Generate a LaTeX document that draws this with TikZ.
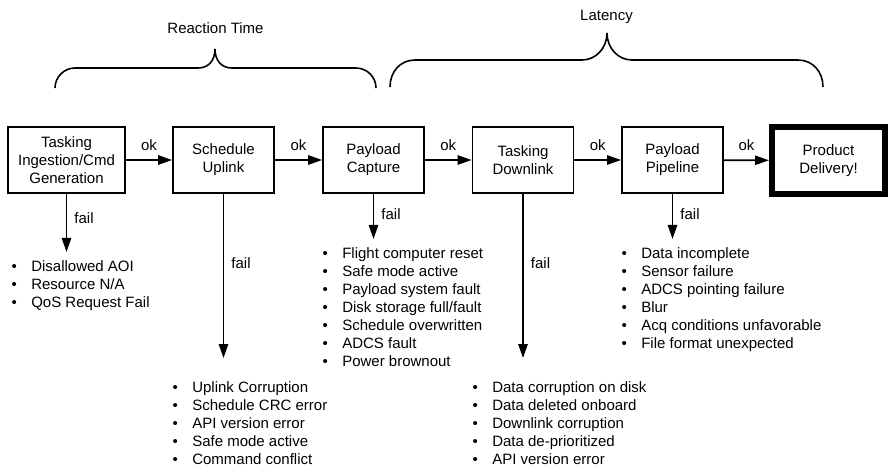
\documentclass[tikz,border=0pt]{standalone}
\usepackage{fontspec}
\setmainfont{Liberation Sans}
\usetikzlibrary{arrows.meta}

\newcommand{\fitem}[1]{\makebox[14.7pt][l]{\textbullet}#1}

\begin{document}
\begin{tikzpicture}[x=0.75pt, y=-0.75pt, >={Triangle[length=10.5pt,width=7pt]},
    every node/.style={font=\fontsize{11.25pt}{13.5pt}\selectfont},
    stage/.style={draw, line width=1.3pt, minimum width=75.75pt, minimum height=49.5pt, align=center, inner sep=0pt},
    flow/.style={->, line width=1.3pt},
    oklbl/.style={above=3pt, midway},
    faillbl/.style={right=2pt, pos=0.37},
    causes/.style={anchor=north west, align=left, inner sep=0pt},
    brace/.style={line width=1.2pt}]

    \useasboundingbox (0,0) rectangle (889,469);

    % Fasi della catena
    \node[stage, minimum width=87.75pt] (ingest) at (66.5,160) {Tasking\\Ingestion/Cmd\\Generation};
    \node[stage] (uplink) at (223.5,160) {Schedule\\Uplink};
    \node[stage] (capture) at (373.5,160) {Payload\\Capture};
    \node[stage] (downlink) at (523,160) {Tasking\\Downlink};
    \node[stage] (pipeline) at (672.5,160) {Payload\\Pipeline};
    \node[stage, line width=4.5pt, minimum width=84.75pt, minimum height=50.25pt] (delivery) at (828.5,160.5) {Product\\Delivery!};

    % Passaggi ok
    \draw[flow] (ingest) -- (uplink) node[oklbl] {ok};
    \draw[flow] (uplink) -- (capture) node[oklbl] {ok};
    \draw[flow] (capture) -- (downlink) node[oklbl] {ok};
    \draw[flow] (downlink) -- (pipeline) node[oklbl] {ok};
    \draw[flow] (pipeline) -- (delivery) node[oklbl] {ok};

    % Cause di errore
    \node[causes] (ingestfail) at (11.4,260.5) {\fitem{Disallowed AOI}\\\fitem{Resource N/A}\\\fitem{QoS Request Fail}};
    \node[causes] (uplinkfail) at (172.4,381.5) {\fitem{Uplink Corruption}\\\fitem{Schedule CRC error}\\\fitem{API version error}\\\fitem{Safe mode active}\\\fitem{Command conflict}};
    \node[causes] (capturefail) at (322.4,247.5) {\fitem{Flight computer reset}\\\fitem{Safe mode active}\\\fitem{Payload system fault}\\\fitem{Disk storage full/fault}\\\fitem{Schedule overwritten}\\\fitem{ADCS fault}\\\fitem{Power brownout}};
    \node[causes] (downlinkfail) at (472.4,381.5) {\fitem{Data corruption on disk}\\\fitem{Data deleted onboard}\\\fitem{Downlink corruption}\\\fitem{Data de-prioritized}\\\fitem{API version error}};
    \node[causes] (pipelinefail) at (621.4,247.5) {\fitem{Data incomplete}\\\fitem{Sensor failure}\\\fitem{ADCS pointing failure}\\\fitem{Blur}\\\fitem{Acq conditions unfavorable}\\\fitem{File format unexpected}};

    \draw[flow, shorten >=6.4pt] (ingest) -- (ingest |- ingestfail.north) node[faillbl] {fail};
    \draw[flow, shorten >=17.6pt] (uplink) -- (uplink |- uplinkfail.north) node[faillbl] {fail};
    \draw[flow, shorten >=6.4pt] (capture) -- (capture |- capturefail.north) node[faillbl] {fail};
    \draw[flow, shorten >=17.6pt] (downlink) -- (downlink |- downlinkfail.north) node[faillbl] {fail};
    \draw[flow, shorten >=6.4pt] (pipeline) -- (pipeline |- pipelinefail.north) node[faillbl] {fail};

    % Graffe
    \draw[brace] (55,88) .. controls (55,77) and (64,68) .. (75,68) -- (198,68)
        .. controls (209,68) and (215,60) .. (215,49)
        .. controls (215,60) and (221,68) .. (232,68) -- (356,68)
        .. controls (367,68) and (376,77) .. (376,88);
    \node[anchor=base] (reaction) at (215.5,33) {Reaction Time};

    \draw[brace] (390,87) .. controls (390,72) and (400,60) .. (415,60) -- (582,60)
        .. controls (596,60) and (607,48) .. (607,33)
        .. controls (607,48) and (618,60) .. (632,60) -- (798,60)
        .. controls (813,60) and (823,72) .. (823,87);
    \node[anchor=base] (latency) at (606.5,20) {Latency};

\end{tikzpicture}
\end{document}
